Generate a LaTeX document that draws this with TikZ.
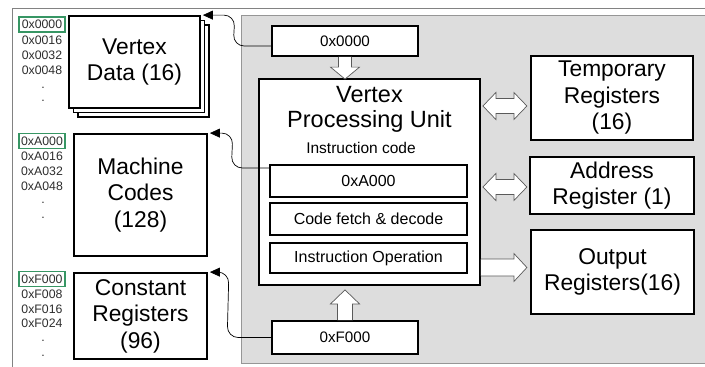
\documentclass[tikz,border=0pt]{standalone}
\usepackage{fontspec}
\setmainfont{Liberation Sans}
\usetikzlibrary{calc,arrows.meta}

\definecolor{panelgray}{RGB}{221,221,221}
\definecolor{panelline}{RGB}{150,150,150}
\definecolor{framegray}{RGB}{130,130,130}
\definecolor{addrgreen}{RGB}{55,150,100}
\definecolor{labeltext}{RGB}{45,45,45}
\definecolor{blockline}{RGB}{90,90,90}

\newcommand{\fsz}[2]{\fontsize{#1}{#2}\selectfont}

\tikzset{
  mainbox/.style={draw=black, line width=1.8pt, fill=white, inner sep=0pt,
    align=center, font=\fsz{22.8}{26.5}},
  subbox/.style={draw=black, line width=1.4pt, fill=white, inner sep=0pt,
    align=center, minimum width=197pt, font=\fsz{16}{19}},
  addrbox/.style={draw=black, line width=1.6pt, fill=white, inner sep=0pt,
    minimum width=146pt, font=\fsz{15.2}{18}},
  addrlbl/.style={inner sep=0pt, text=labeltext, font=\fsz{12.3}{14}},
  firstaddr/.style={addrlbl, draw=addrgreen, line width=1.2pt,
    minimum width=46pt, minimum height=15pt},
  hollow/.style={draw=blockline, line width=0.7pt, fill=white, line join=miter},
  link/.style={draw=black, line width=0.7pt, rounded corners=11pt,
    -{Triangle[length=10pt,width=9pt]}},
}

\begin{document}
\begin{tikzpicture}[x=1pt,y=-1pt]
\useasboundingbox (0,0) rectangle (705,367);

% outer frame (top and left edges)
\draw[framegray, line width=1pt] (12,367) -- (12,8) -- (705,8);

% grey processor panel
\fill[panelgray] (241,15) rectangle (705,363);
\draw[panelline, line width=1pt] (705,15) -- (241,15) -- (241,363) -- (705,363);

% ---------------- memory blocks on the left ----------------
\node[mainbox, minimum width=131pt, minimum height=92pt] (vdB) at (143.5,71) {};
\node[mainbox, minimum width=131pt, minimum height=92pt] (vdA) at (139,66.5) {};
\node[mainbox, minimum width=131pt, minimum height=92pt] (vd) at (134.5,62) {Vertex\\Data (16)};

\node[mainbox, minimum width=133pt, minimum height=122pt] (mc) at (140.5,195) {Machine\\Codes\\(128)};
\node[mainbox, minimum width=133pt, minimum height=86pt] (cr) at (140.5,316) {Constant\\Registers\\(96)};

% address columns
\node[firstaddr] (v0) at (42,24.5) {0x0000};
\node[addrlbl] (v1) at (42,40) {0x0016};
\node[addrlbl] (v2) at (42,55) {0x0032};
\node[addrlbl] (v3) at (42,70.5) {0x0048};
\node[addrlbl] (v4) at (43,88) {.};
\node[addrlbl] (v5) at (43,101) {.};

\node[firstaddr] (a0) at (42,141) {0xA000};
\node[addrlbl] (a1) at (42,156) {0xA016};
\node[addrlbl] (a2) at (42,171) {0xA032};
\node[addrlbl] (a3) at (42,186) {0xA048};
\node[addrlbl] (a4) at (43,203) {.};
\node[addrlbl] (a5) at (43,218) {.};

\node[firstaddr] (f0) at (42,279) {0xF000};
\node[addrlbl] (f1) at (42,294) {0xF008};
\node[addrlbl] (f2) at (42,309) {0xF016};
\node[addrlbl] (f3) at (42,323.5) {0xF024};
\node[addrlbl] (f4) at (43,341) {.};
\node[addrlbl] (f5) at (43,356) {.};

% ---------------- processing unit ----------------
\node[addrbox, minimum height=30pt] (t0) at (345,41) {0x0000};
\node[addrbox, minimum height=33pt] (tf) at (345,337.5) {0xF000};

\node[draw=black, line width=1.8pt, fill=white, minimum width=221pt,
      minimum height=206pt, inner sep=0pt] (vpu) at (369.5,182) {};
\node[align=center, inner sep=0pt, font=\fsz{23.5}{25.5}] (vputitle) at (369.5,109.5)
  {Vertex\\Processing Unit};
\node[inner sep=0pt, font=\fsz{15.5}{17}] (icode) at (361,148) {Instruction code};

\node[subbox, minimum height=32pt] (inA) at (368.5,181) {0xA000};
\node[subbox, minimum height=32pt] (cf) at (368.5,219) {Code fetch \& decode};
\node[subbox, minimum height=30pt] (io) at (368.5,258) {Instruction Operation};

% ---------------- register files on the right ----------------
\node[mainbox, minimum width=162pt, minimum height=84pt] (tmp) at (612,98) {Temporary\\Registers\\(16)};
\node[mainbox, minimum width=164pt, minimum height=57pt] (ar) at (612,185.5) {Address\\Register (1)};
\node[mainbox, minimum width=163pt, minimum height=84pt] (outr) at (612.5,272) {Output\\Registers(16)};

% ---------------- block arrows ----------------
% address register 0x0000 feeds the unit
\coordinate (dnS) at (t0.south);
\coordinate (dnT) at ($(t0.south |- vpu.north)+(0,1)$);
\draw[hollow] ($(dnS)+(-6.5,0)$) -- ($(dnT)+(-6.5,-12)$) -- ($(dnT)+(-14.5,-12)$)
  -- (dnT) -- ($(dnT)+(14.5,-12)$) -- ($(dnT)+(6.5,-12)$) -- ($(dnS)+(6.5,0)$);

% constant address 0xF000 feeds the unit
\coordinate (upS) at (tf.north);
\coordinate (upT) at ($(tf.north |- vpu.south)+(0,4)$);
\draw[hollow] ($(upS)+(-7.5,0)$) -- ($(upT)+(-7.5,14)$) -- ($(upT)+(-14.5,14)$)
  -- (upT) -- ($(upT)+(14.5,14)$) -- ($(upT)+(7.5,14)$) -- ($(upS)+(7.5,0)$);

% two-way exchange with temporary and address registers
\coordinate (tmpL) at ($(vpu.east |- tmp.center)+(2,8)$);
\coordinate (arL) at ($(vpu.east |- ar.center)+(2,1.5)$);
\foreach \p in {tmpL,arL}{
  \draw[hollow] (\p) -- ++(13,-13.5) -- ++(0,6) -- ++(18,0) -- ++(0,-6)
    -- ++(13,13.5) -- ++(-13,13.5) -- ++(0,-6) -- ++(-18,0) -- ++(0,6) -- cycle;
}

% results go to the output registers
\coordinate (outL) at ($(vpu.east |- outr.center)+(0,-4.5)$);
\draw[hollow] ($(outL)+(0,-8.5)$) -- ++(33,0) -- ++(0,-5.5) -- ++(13,14)
  -- ++(-13,14) -- ++(0,-5.5) -- ++(-33,0);

% ---------------- address links to memory ----------------
\draw[link] ([yshift=-5pt]t0.west) -- ($(t0.west)+(-38,5)$) -- ($(vd.north east)+(34,0)$)
  -- ([xshift=2pt]vd.north east);
\draw[link] ([yshift=13pt]inA.west) -- ($(inA.west)+(-38,-13)$) -- ($(mc.north east)+(25,0)$)
  -- ([xshift=2pt]mc.north east);
\draw[link] (tf.west) -- ($(tf.west)+(-44,0)$) -- ($(cr.north east)+(21,0)$)
  -- ([xshift=2pt]cr.north east);

\end{tikzpicture}
\end{document}
